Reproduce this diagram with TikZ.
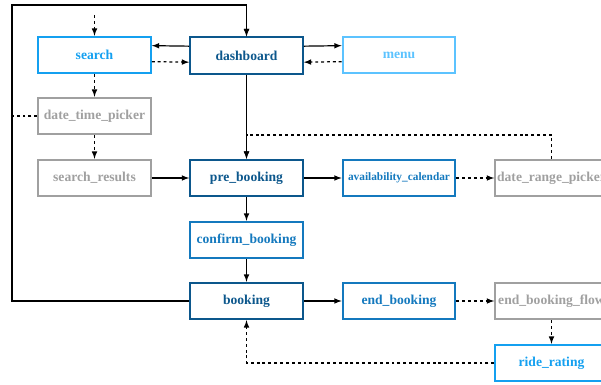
\documentclass[tikz,border=0pt]{standalone}
\usepackage{fontspec}
\setmainfont{Liberation Serif}
\usepackage{tikz}
\usetikzlibrary{calc,shapes,arrows}

\definecolor{darkblue}{RGB}{12,87,140}
\definecolor{midblue}{RGB}{20,121,190}
\definecolor{brightblue}{RGB}{20,160,240}
\definecolor{lightblue}{RGB}{92,195,255}
\definecolor{greybox}{RGB}{160,160,160}

\tikzset{
        screen/.style={draw, line width=1.5pt, minimum width=84.5pt, minimum height=27.3pt,
            inner sep=1pt, font=\fontsize{10.2}{12}\selectfont\bfseries},
        main/.style={screen, draw=darkblue, text=darkblue},
        sub/.style={screen, draw=midblue, text=midblue},
        side/.style={screen, draw=brightblue, text=brightblue},
        extra/.style={screen, draw=lightblue, text=lightblue},
        grey/.style={screen, draw=greybox, text=greybox},
        go/.style={-latex, line width=0.9pt},
        maybe/.style={-latex, line width=0.9pt, dash pattern=on 2.2pt off 2.2pt}
}

\begin{document}
\begin{tikzpicture}[x=0.75pt, y=-0.75pt]
        \useasboundingbox (0,0) rectangle (601,385);
        % screens
        \node[side] (search) at (94.5,55) {search};
        \node[main] (dashboard) at (246.5,55.5) {dashboard};
        \node[extra] (menu) at (399,55) {menu};
        \node[grey] (date_time_picker) at (94.5,116) {date\_time\_picker};
        \node[grey] (search_results) at (94.5,178) {search\_results};
        \node[main] (pre_booking) at (246.5,178) {pre\_booking};
        \node[sub, font=\fontsize{8.5}{10}\selectfont\bfseries] (availability_calendar) at (399,178) {availability\_calendar};
        \node[grey] (date_range_picker) at (551.5,178) {date\_range\_picker};
        \node[sub] (confirm_booking) at (246.5,240) {confirm\_booking};
        \node[main] (booking) at (246.5,301) {booking};
        \node[sub] (end_booking) at (399,301) {end\_booking};
        \node[grey] (end_booking_flow) at (551.5,301) {end\_booking\_flow};
        \node[side] (ride_rating) at (551.5,363) {ride\_rating};
        \coordinate (entry) at (94.5,15);
        \coordinate (loopcorner) at (12,5);
        \coordinate (rangeturn) at (551.5,135);
        % links
        \draw[go] ([yshift=7pt]dashboard.west) -- ([yshift=7pt]search.east);
        \draw[maybe] ([yshift=-5pt]search.east) -- ([yshift=-5pt]dashboard.west);
        \draw[go] ([yshift=7pt]dashboard.east) -- ([yshift=7pt]menu.west);
        \draw[maybe] ([yshift=-5pt]menu.west) -- ([yshift=-5pt]dashboard.east);
        \draw[maybe] (entry) -- (search);
        \draw[maybe] (search) -- (date_time_picker);
        \draw[maybe] (date_time_picker) -- (search_results);
        \draw[go] (search_results) -- (pre_booking);
        \draw[go] (dashboard) -- (pre_booking);
        \draw[maybe] (date_range_picker.north) -- (rangeturn) -| (pre_booking.north);
        \draw[go] (pre_booking) -- (availability_calendar);
        \draw[maybe] (availability_calendar) -- (date_range_picker);
        \draw[go] (pre_booking) -- (confirm_booking);
        \draw[go] (confirm_booking) -- (booking);
        \draw[go] (booking) -- (end_booking);
        \draw[maybe] (end_booking) -- (end_booking_flow);
        \draw[maybe] (end_booking_flow) -- (ride_rating);
        \draw[maybe] (ride_rating.west) -| (booking.south);
        \draw[go] (booking.west) -| (loopcorner) -| (dashboard.north);
        \draw[maybe] (date_time_picker.west) -| (loopcorner) -| (dashboard.north);
\end{tikzpicture}
\end{document}
